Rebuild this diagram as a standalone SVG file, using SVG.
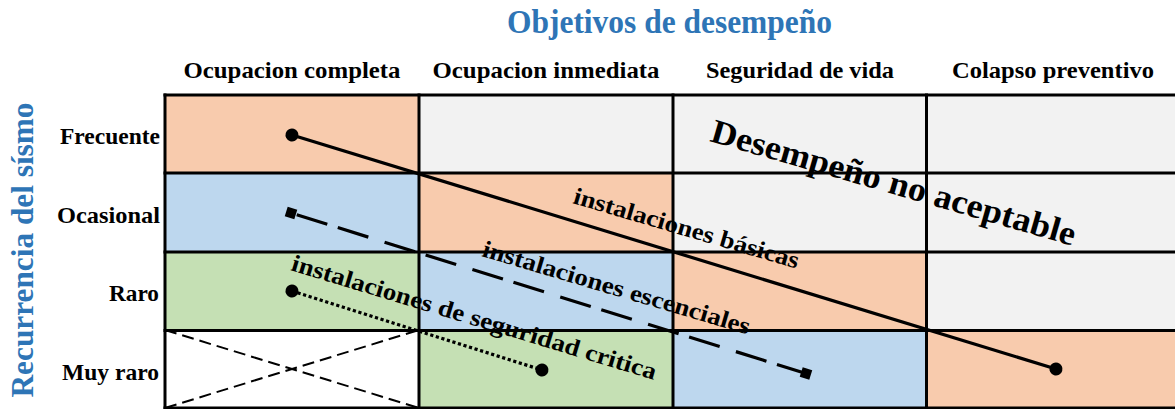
<svg xmlns="http://www.w3.org/2000/svg" width="1175" height="409" viewBox="0 0 1175 409">
  <style>
    .t { font-family: "Liberation Serif", "Times New Roman", serif; font-weight: bold; fill: #000; }
    .blue { fill: #2E75B6; }
    .hdr { font-size: 23px; text-anchor: middle; }
    .row { font-size: 23px; text-anchor: end; }
    .lab { font-size: 24px; }
    .orange { fill: #F8CBAD; }
    .blu { fill: #BDD7EE; }
    .green { fill: #C5E0B4; }
    .grey { fill: #F2F2F2; }
    .white { fill: #FFFFFF; }
    .grid { stroke: #000; stroke-width: 3; fill: none; }
    .conn { stroke: #000; stroke-width: 3.2; fill: none; }
  </style>
  <defs>
    <marker id="dot" markerUnits="userSpaceOnUse" markerWidth="16" markerHeight="16" refX="8" refY="8" orient="auto">
      <circle cx="8" cy="8" r="6.5" fill="#000"/>
    </marker>
    <marker id="sq" markerUnits="userSpaceOnUse" markerWidth="16" markerHeight="16" refX="8" refY="8" orient="auto">
      <rect x="3" y="3" width="10" height="10" fill="#000"/>
    </marker>
  </defs>

  <rect width="1175" height="409" fill="#fff"/>

  <g id="title">
    <text class="t blue" x="507" y="33" font-size="33" textLength="325" lengthAdjust="spacingAndGlyphs">Objetivos de desempeño</text>
  </g>
  <g id="yaxis-title">
    <text class="t blue" font-size="32" text-anchor="middle" transform="translate(33,250) rotate(-90)" textLength="295" lengthAdjust="spacingAndGlyphs">Recurrencia del sísmo</text>
  </g>

  <g id="col-headers">
    <text id="h1" class="t hdr" x="292" y="77.5" textLength="217" lengthAdjust="spacingAndGlyphs">Ocupacion completa</text>
    <text id="h2" class="t hdr" x="546" y="77.5" textLength="227" lengthAdjust="spacingAndGlyphs">Ocupacion inmediata</text>
    <text id="h3" class="t hdr" x="800" y="77.5" textLength="188" lengthAdjust="spacingAndGlyphs">Seguridad de vida</text>
    <text id="h4" class="t hdr" x="1053" y="77.5" textLength="202" lengthAdjust="spacingAndGlyphs">Colapso preventivo</text>
  </g>

  <g id="row-headers">
    <text id="r1" class="t row" x="160" y="144" textLength="100" lengthAdjust="spacingAndGlyphs">Frecuente</text>
    <text id="r2" class="t row" x="160" y="223" textLength="103" lengthAdjust="spacingAndGlyphs">Ocasional</text>
    <text id="r3" class="t row" x="159" y="301" textLength="50" lengthAdjust="spacingAndGlyphs">Raro</text>
    <text id="r4" class="t row" x="159" y="380" textLength="97" lengthAdjust="spacingAndGlyphs">Muy raro</text>
  </g>

  <g id="cells">
    <rect id="c11" class="orange" x="165" y="95" width="254" height="78"/>
    <rect id="c12" class="grey" x="419" y="95" width="254" height="78"/>
    <rect id="c13" class="grey" x="673" y="95" width="254" height="78"/>
    <rect id="c14" class="grey" x="927" y="95" width="248" height="78"/>

    <rect id="c21" class="blu" x="165" y="173" width="254" height="79"/>
    <rect id="c22" class="orange" x="419" y="173" width="254" height="79"/>
    <rect id="c23" class="grey" x="673" y="173" width="254" height="79"/>
    <rect id="c24" class="grey" x="927" y="173" width="248" height="79"/>

    <rect id="c31" class="green" x="165" y="252" width="254" height="78"/>
    <rect id="c32" class="blu" x="419" y="252" width="254" height="78"/>
    <rect id="c33" class="orange" x="673" y="252" width="254" height="78"/>
    <rect id="c34" class="grey" x="927" y="252" width="248" height="78"/>

    <g id="c41">
      <rect class="white" x="165" y="330" width="254" height="78"/>
      <line x1="165" y1="330" x2="419" y2="408" stroke="#000" stroke-width="2" stroke-dasharray="12 6"/>
      <line x1="165" y1="408" x2="419" y2="330" stroke="#000" stroke-width="2" stroke-dasharray="12 6"/>
    </g>
    <rect id="c42" class="green" x="419" y="330" width="254" height="78"/>
    <rect id="c43" class="blu" x="673" y="330" width="254" height="78"/>
    <rect id="c44" class="orange" x="927" y="330" width="248" height="78"/>
  </g>

  <g id="grid" class="grid">
    <line x1="163.5" y1="95" x2="1175" y2="95"/>
    <line x1="163.5" y1="173" x2="1175" y2="173"/>
    <line x1="163.5" y1="252" x2="1175" y2="252"/>
    <line x1="163.5" y1="330.5" x2="1175" y2="330.5"/>
    <line x1="163.5" y1="408" x2="1175" y2="408"/>
    <line x1="165" y1="93.5" x2="165" y2="409"/>
    <line x1="419" y1="93.5" x2="419" y2="409"/>
    <line x1="673" y1="93.5" x2="673" y2="409"/>
    <line x1="926.5" y1="93.5" x2="926.5" y2="409"/>
  </g>

  <g id="connectors">
    <line id="basicas" class="conn" x1="292" y1="135" x2="1056" y2="369" marker-start="url(#dot)" marker-end="url(#dot)"/>
    <line id="esenciales" class="conn" x1="291" y1="213" x2="806" y2="373.5" stroke-width="3.6" stroke-dasharray="0 6 32 11 32 11" marker-start="url(#sq)" marker-end="url(#sq)"/>
    <line id="critica" class="conn" x1="292" y1="291" x2="542" y2="370" stroke-width="3.5" stroke-dasharray="3.2 2.6" marker-start="url(#dot)" marker-end="url(#dot)"/>
  </g>

  <g id="labels">
    <text class="t" font-size="34" transform="translate(709,141) rotate(16.1)" textLength="378" lengthAdjust="spacingAndGlyphs">Desempeño no aceptable</text>
    <text class="t lab" transform="translate(572,203) rotate(16.3)" textLength="234" lengthAdjust="spacingAndGlyphs">instalaciones básicas</text>
    <text class="t lab" transform="translate(481,256) rotate(16.4)" textLength="278" lengthAdjust="spacingAndGlyphs">instalaciones escenciales</text>
    <text class="t lab" transform="translate(290,270) rotate(16.8)" textLength="380" lengthAdjust="spacingAndGlyphs">instalaciones de seguridad critica</text>
  </g>
</svg>
